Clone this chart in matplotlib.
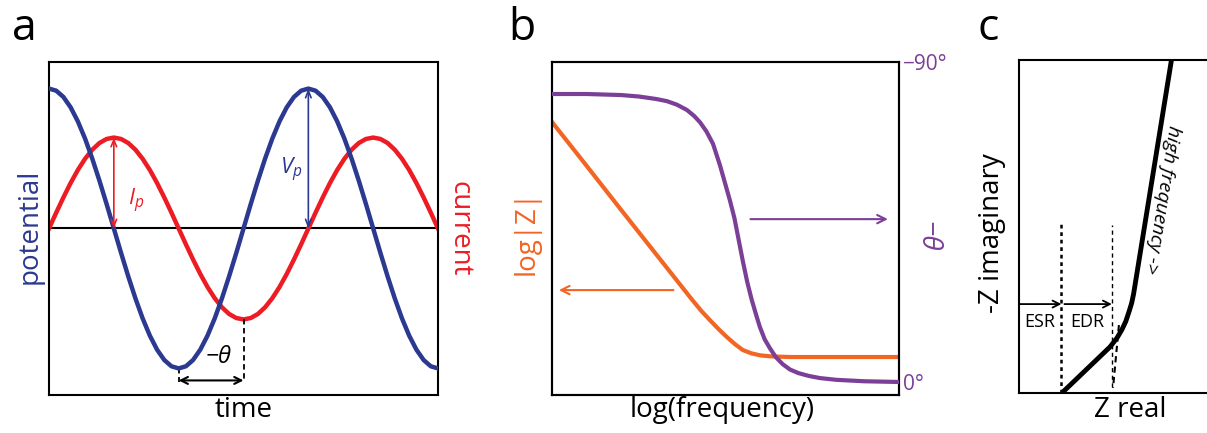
import matplotlib.pyplot as plt
import numpy as np

plt.rcParams['font.family'] = ['Open Sans', 'DejaVu Sans']
plt.rcParams['mathtext.fontset'] = 'custom'
plt.rcParams['mathtext.rm'] = 'Open Sans'
plt.rcParams['mathtext.it'] = 'Open Sans:italic'

BLUE = '#2b3990'
RED = '#ed1c24'
ORANGE = '#f26522'
PURPLE = '#7b3f98'

# --- panel a: potential and current over 1.5 cycles (10 deg steps) ---
time = np.linspace(0, 1.5, 55)
potential = [1.000, 0.985, 0.940, 0.866, 0.766, 0.643, 0.500, 0.342, 0.174, 0.000,
             -0.174, -0.342, -0.500, -0.643, -0.766, -0.866, -0.940, -0.985, -1.000,
             -0.985, -0.940, -0.866, -0.766, -0.643, -0.500, -0.342, -0.174, 0.000,
             0.174, 0.342, 0.500, 0.643, 0.766, 0.866, 0.940, 0.985, 1.000,
             0.985, 0.940, 0.866, 0.766, 0.643, 0.500, 0.342, 0.174, 0.000,
             -0.174, -0.342, -0.500, -0.643, -0.766, -0.866, -0.940, -0.985, -1.000]
current = [0.000, 0.113, 0.222, 0.325, 0.418, 0.498, 0.563, 0.611, 0.640, 0.650,
           0.640, 0.611, 0.563, 0.498, 0.418, 0.325, 0.222, 0.113, 0.000,
           -0.113, -0.222, -0.325, -0.418, -0.498, -0.563, -0.611, -0.640, -0.650,
           -0.640, -0.611, -0.563, -0.498, -0.418, -0.325, -0.222, -0.113, 0.000,
           0.113, 0.222, 0.325, 0.418, 0.498, 0.563, 0.611, 0.640, 0.650,
           0.640, 0.611, 0.563, 0.498, 0.418, 0.325, 0.222, 0.113, 0.000]
v_peak_t, i_peak_t = 1.0, 0.25
v_peak, i_peak = 1.0, 0.65
theta_t = [0.5, 0.75]

# --- panel b: Bode plot ---
freq_z = [0.0, 0.1, 0.2, 0.3, 0.35, 0.4, 0.43, 0.455, 0.48, 0.504, 0.527,
          0.55, 0.575, 0.6, 0.63, 0.686, 1.0]
log_z = [0.82, 0.688, 0.555, 0.423, 0.357, 0.291, 0.253, 0.225, 0.198, 0.174, 0.153,
         0.135, 0.125, 0.119, 0.116, 0.114, 0.114]
freq_ph = [0.0, 0.1, 0.2, 0.25, 0.3, 0.331, 0.36, 0.389, 0.41, 0.427, 0.445, 0.464,
           0.484, 0.5, 0.513, 0.526, 0.536, 0.55, 0.563, 0.576, 0.588, 0.599, 0.613,
           0.628, 0.645, 0.665, 0.686, 0.71, 0.74, 0.772, 0.82, 0.9, 1.0]
phase = [81, 81, 80.7, 80.3, 79.6, 79, 78, 76.5, 74.8, 73, 70.5, 67,
         61, 55.5, 51, 46, 41, 34, 28, 23, 19, 15.5, 12,
         9.5, 7, 5, 3.5, 2.5, 1.7, 1.1, 0.6, 0.2, 0]

# --- panel c: Nyquist plot ---
z_real = [0.219, 0.464, 0.50, 0.525, 0.545, 0.562, 0.575, 0.585, 0.778]
z_imag = [0.0, 0.138, 0.165, 0.19, 0.215, 0.245, 0.27, 0.298, 1.0]
esr = 0.217
edr = 0.474
arrow_level = 0.267

fig = plt.figure(figsize=(12.07, 4.33), dpi=100)

def frame(ax, lw=1.5):
    ax.set_xticks([])
    ax.set_yticks([])
    for s in ax.spines.values():
        s.set_linewidth(lw)

# ---------------- a ----------------
ax_a = fig.add_axes([0.0406, 0.0878, 0.3223, 0.769])
frame(ax_a)
ax_a.axhline(0, color='black', lw=1.5, zorder=1)
ax_a.plot(time, current, color=RED, lw=3.2, zorder=2)
ax_a.plot(time, potential, color=BLUE, lw=3.2, zorder=3)
ax_a.set_xlim(0, 1.5)
ax_a.set_ylim(-1.19, 1.19)

ax_a.annotate('', xy=(i_peak_t, i_peak), xytext=(i_peak_t, 0),
              arrowprops=dict(arrowstyle='<->, head_length=0.5, head_width=0.2',
                              color=RED, lw=1.2, shrinkA=0, shrinkB=0))
ax_a.annotate('', xy=(v_peak_t, v_peak), xytext=(v_peak_t, 0),
              arrowprops=dict(arrowstyle='<->, head_length=0.5, head_width=0.2',
                              color=BLUE, lw=1.2, shrinkA=0, shrinkB=0))
ax_a.text(0.336, 0.2, r'$I_p$', color=RED, fontsize=16, ha='center', va='center')
ax_a.text(0.935, 0.42, r'$V_p$', color=BLUE, fontsize=16, ha='center', va='center')

ax_a.plot([theta_t[0], theta_t[0]], [-1.0, -1.1], color='black', lw=1.3, ls=(0, (3, 2)))
ax_a.plot([theta_t[1], theta_t[1]], [-i_peak, -1.1], color='black', lw=1.3, ls=(0, (3, 2)))
ax_a.annotate('', xy=(theta_t[1], -1.086), xytext=(theta_t[0], -1.086),
              arrowprops=dict(arrowstyle='<->, head_length=0.5, head_width=0.25',
                              color='black', lw=1.5, shrinkA=0, shrinkB=0))
ax_a.text(0.653, -0.92, '−θ', fontsize=17, fontstyle='italic', ha='center', va='center')

fig.text(30 / 1207, 1 - 226 / 433, 'potential', color=BLUE, fontsize=20,
         rotation=90, ha='center', va='center')
fig.text(460 / 1207, 1 - 229 / 433, 'current', color=RED, fontsize=20,
         rotation=270, ha='center', va='center')
fig.text(244 / 1207, 1 - 410 / 433, 'time', fontsize=20, ha='center', va='center')

# ---------------- b ----------------
ax_b = fig.add_axes([0.4573, 0.0878, 0.2875, 0.769])
frame(ax_b)
ax_b.set_xlim(0, 1)
ax_b.set_ylim(0, 1)
ax_b.plot(freq_z, log_z, color=ORANGE, lw=3, zorder=2)
ax_b.annotate('', xy=(0.02, 0.315), xytext=(0.35, 0.315),
              arrowprops=dict(arrowstyle='->, head_length=0.6, head_width=0.3',
                              color=ORANGE, lw=1.5, shrinkA=0, shrinkB=0))

ax_b2 = ax_b.twinx()
ax_b2.set_ylim(-3.66, 90)
ax_b2.plot(freq_ph, phase, color=PURPLE, lw=3, zorder=3)
ax_b2.annotate('', xy=(0.968, 45.8), xytext=(0.572, 45.8),
               arrowprops=dict(arrowstyle='->, head_length=0.6, head_width=0.3',
                               color=PURPLE, lw=1.5, shrinkA=0, shrinkB=0))
ax_b2.set_yticks([0, 90])
ax_b2.set_yticklabels(['0°', '−90°'], color=PURPLE, fontsize=15)
ax_b2.tick_params(axis='y', length=0, pad=3)
for s in ax_b2.spines.values():
    s.set_linewidth(1.5)

fig.text(527 / 1207, 1 - 232 / 433, 'log|Z|', color=ORANGE, fontsize=20,
         rotation=90, ha='center', va='center')
fig.text(927 / 1207, 1 - 236 / 433, '−θ', color=PURPLE, fontsize=20,
         fontstyle='italic', rotation=270, ha='center', va='center')
fig.text(722 / 1207, 1 - 410 / 433, 'log(frequency)', fontsize=20, ha='center', va='center')

# ---------------- c ----------------
ax_c = fig.add_axes([0.8442, 0.0924, 0.1624, 0.769])
frame(ax_c)
ax_c.set_xlim(0, 1)
ax_c.set_ylim(0, 1)
ax_c.plot(z_real, z_imag, color='black', lw=3.5, solid_capstyle='butt',
          solid_joinstyle='round', zorder=3)
ax_c.plot([0.51, 0.48], [0.204, 0.015], color='black', lw=1.5, ls=(0, (3, 2)))
ax_c.plot([esr, esr], [0, 0.514], color='black', lw=1.8, ls=(0, (1.5, 1.5)))
ax_c.plot([edr, edr], [0.018, 0.505], color='black', lw=1.0, ls=(0, (3, 2.5)))
for x0, x1 in [(0, esr), (esr + 0.015, edr)]:
    ax_c.annotate('', xy=(x1, arrow_level), xytext=(x0, arrow_level),
                  arrowprops=dict(arrowstyle='->, head_length=0.5, head_width=0.25',
                                  color='black', lw=1.3, shrinkA=0, shrinkB=0))
ax_c.text(0.107, 0.213, 'ESR', fontsize=13, ha='center', va='center')
ax_c.text(0.35, 0.213, 'EDR', fontsize=13, ha='center', va='center')
ax_c.text(0.730, 0.58, 'high frequency ->', fontsize=14, fontstyle='italic',
          rotation=-99.2, rotation_mode='anchor', ha='center', va='center')

fig.text(992 / 1207, 1 - 233 / 433, '-Z imaginary', fontsize=20,
         rotation=90, ha='center', va='center')
fig.text(1130 / 1207, 1 - 410 / 433, 'Z real', fontsize=20, ha='center', va='center')

# panel letters
for x, lab in [(24, 'a'), (522, 'b'), (988, 'c')]:
    fig.text(x / 1207, 1 - 40 / 433, lab, fontsize=32, ha='center', va='baseline')

fig.savefig('out.png', dpi=100)
